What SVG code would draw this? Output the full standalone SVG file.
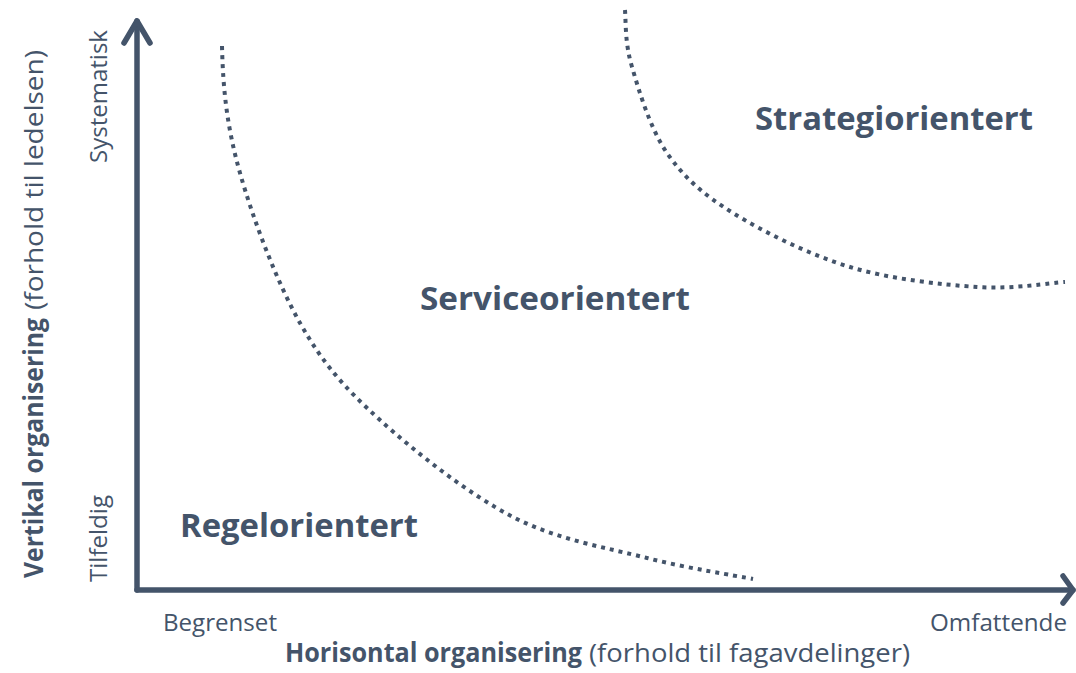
<svg xmlns="http://www.w3.org/2000/svg" width="1076" height="673" viewBox="0 0 1076 673">
<style>
.axis{fill:none;stroke:#44546A;stroke-width:5.5;stroke-linecap:round;stroke-linejoin:round}
.curve{fill:none;stroke:#44546A;stroke-width:4;stroke-dasharray:4 5}
text{font-family:"Open Sans","Noto Sans","Liberation Sans",sans-serif;fill:#44546A}
.big{font-size:32px;font-weight:bold}
.tick{font-size:23px}
.title{font-size:26px}
.b{font-weight:bold}
</style>
<rect width="1076" height="673" fill="#ffffff"/>
<g id="connectors">
  <path class="axis" d="M137,590 V21"/>
  <path class="axis" d="M124,43 L137,21 L150,43"/>
  <path class="axis" d="M137,590 H1073"/>
  <path class="axis" d="M1063,576 L1073,590 L1063,603"/>
  <path id="curve-regel" class="curve" d="M222,46 C223,90 227,127 240,173 C253,219 276.7,281.8 300,323 C323.3,364.2 344.5,387.7 380,420 C415.5,452.3 468.5,494 513,517 C557.5,540 607,547.7 647,558 C687,568.3 735.3,575.5 753,579"/>
  <path id="curve-strategi" class="curve" d="M625,10 C626,25 625,43.2 632,67 C639,90.8 650.2,128.7 667,153 C683.8,177.3 702.5,194 733,213 C763.5,232 809.3,254.7 850,267 C890.7,279.3 941.2,284.5 977,287 C1012.8,289.5 1050.3,282.8 1065,282"/>
</g>
<g id="regelorientert"><text class="big" x="180" y="537" textLength="238" lengthAdjust="spacingAndGlyphs">Regelorientert</text></g>
<g id="serviceorientert"><text class="big" x="420" y="310" textLength="270" lengthAdjust="spacingAndGlyphs">Serviceorientert</text></g>
<g id="strategiorientert"><text class="big" x="755" y="130" textLength="278" lengthAdjust="spacingAndGlyphs">Strategiorientert</text></g>
<g id="x-axis-labels">
  <text class="tick" x="163" y="631" textLength="114" lengthAdjust="spacingAndGlyphs">Begrenset</text>
  <text class="tick" x="930" y="631" textLength="137" lengthAdjust="spacingAndGlyphs">Omfattende</text>
  <text class="title b" x="285" y="662" textLength="297" lengthAdjust="spacingAndGlyphs">Horisontal organisering</text>
  <text class="title" x="589" y="662" textLength="321" lengthAdjust="spacingAndGlyphs">(forhold til fagavdelinger)</text>
</g>
<g id="y-axis-labels">
  <text class="tick" transform="translate(107,163) rotate(-90)" x="0" y="0" textLength="133" lengthAdjust="spacingAndGlyphs">Systematisk</text>
  <text class="tick" transform="translate(107,582) rotate(-90)" x="0" y="0" textLength="87" lengthAdjust="spacingAndGlyphs">Tilfeldig</text>
  <g transform="translate(43,578) rotate(-90)">
    <text class="title b" x="0" y="0" textLength="260" lengthAdjust="spacingAndGlyphs">Vertikal organisering</text>
    <text class="title" x="268" y="0" textLength="260" lengthAdjust="spacingAndGlyphs">(forhold til ledelsen)</text>
  </g>
</g>
</svg>
